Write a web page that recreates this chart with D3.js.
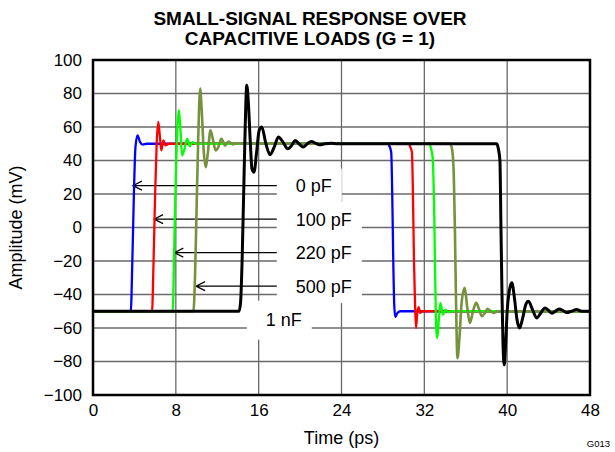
<!DOCTYPE html>
<html>
<head>
<meta charset="utf-8">
<script src="https://cdn.jsdelivr.net/npm/d3@7"></script>
<style>
  body { margin: 0; background: #fff; }
  svg { font-family: 'Liberation Sans', Arial, sans-serif; }
</style>
</head>
<body>
<svg width="615" height="452"></svg>
<script>
// Series: [time (ps), amplitude (mV)]
const series0pF = [
  [0, -50], [3.65, -50], [3.8, -20], [3.95, 20], [4.1, 48], [4.3, 55], [4.55, 51], [4.8, 49.5], [5.2, 50],
  [28.5, 50], [28.6, 49], [28.8, 45], [28.9, 20], [29.0, -20], [29.1, -47], [29.2, -53.5], [29.4, -51], [29.7, -50], [48, -50]
];
const series100pF = [
  [0, -50], [5.7, -50], [5.85, -20], [6.0, 20], [6.15, 50], [6.3, 63], [6.45, 55], [6.6, 46], [6.8, 52], [7.0, 49], [7.3, 50],
  [30.5, 50], [30.65, 48], [30.8, 45], [30.9, 20], [31.0, -20], [31.1, -45], [31.2, -60], [31.3, -52], [31.45, -47.5], [31.6, -51], [31.8, -50], [48, -50]
];
const series220pF = [
  [0, -50], [7.7, -50], [7.85, -10], [8.0, 30], [8.15, 60], [8.3, 70], [8.45, 58], [8.6, 43], [8.8, 46], [9.1, 53], [9.35, 48.5], [9.6, 51], [9.9, 50],
  [32.5, 50], [32.65, 47], [32.8, 42], [32.95, 10], [33.05, -30], [33.15, -60], [33.25, -66], [33.4, -55], [33.55, -45], [33.8, -52], [34.05, -49], [34.3, -50.5], [34.6, -50], [48, -50]
];
const series500pF = [
  [0, -50], [9.7, -50], [9.85, -30], [10.0, 10], [10.15, 50], [10.35, 83], [10.5, 70], [10.7, 45], [10.9, 36], [11.1, 45], [11.35, 58], [11.6, 52],
  [11.85, 46], [12.1, 48], [12.4, 53], [12.75, 49], [13.1, 51.3], [13.5, 49.6], [13.9, 50.3], [14.3, 50],
  [34.5, 50], [34.7, 46], [34.85, 30], [34.95, 0], [35.05, -40], [35.2, -78], [35.4, -65], [35.6, -45], [35.9, -36], [36.15, -48], [36.4, -57],
  [36.7, -50], [37.0, -45], [37.3, -49], [37.55, -53], [37.85, -51], [38.1, -48.5], [38.4, -50], [38.7, -51], [39.1, -50], [48, -50]
];
const series1nF = [
  [0, -50], [14.1, -50], [14.25, -45], [14.4, -20], [14.55, 20], [14.7, 60], [14.85, 85], [15.0, 75], [15.2, 50], [15.35, 35], [15.55, 33],
  [15.8, 45], [16.05, 58], [16.3, 60], [16.7, 50], [17.1, 43.5], [17.5, 48], [17.9, 54], [18.35, 51], [18.8, 47], [19.2, 49], [19.5, 52],
  [19.9, 50], [20.3, 48], [20.7, 50], [21.1, 51.4], [21.5, 50.3], [21.9, 49.4], [22.4, 50], [23.0, 50.3], [23.6, 50],
  [39.0, 50], [39.15, 47], [39.3, 40], [39.4, 0], [39.5, -40], [39.6, -70], [39.72, -82], [39.85, -70], [40.0, -50], [40.2, -38], [40.45, -33],
  [40.7, -42], [40.95, -55], [41.2, -60], [41.5, -54], [41.8, -46], [42.05, -44], [42.45, -49], [42.85, -54], [43.25, -51], [43.65, -48],
  [44.0, -49.5], [44.3, -51.2], [44.65, -50], [45.0, -48.6], [45.4, -49.6], [45.75, -50.8], [46.2, -50], [46.7, -49], [47.2, -50], [48, -50]
];

const seriesList = [series0pF, series100pF, series220pF, series500pF, series1nF];
const seriesColors = ['#0000ff', '#ff0000', '#00ff00', '#76923c', '#000000'];
const seriesWidths = [2.3, 2.3, 2.3, 2.6, 3];

// Tick values
const xTicks = [0, 8, 16, 24, 32, 40, 48];
const yTicks = [-100, -80, -60, -40, -20, 0, 20, 40, 60, 80, 100];

// Annotation labels (mV level of label, time of arrow tip)
const labelNames = ['0 pF', '100 pF', '220 pF', '500 pF'];
const labelMV = [25, 5, -15, -35];
const arrowTipT = [3.85, 5.9, 7.85, 9.95];
const lastLabel = '1 nF';
const lastLabelMV = -55;

function drawChart() {
  const svg = d3.select('svg');
  const margin = { top: 60, right: 25, bottom: 57, left: 93 };
  const width = 615 - margin.left - margin.right;
  const height = 452 - margin.top - margin.bottom;

  const g = svg.append('g')
    .attr('transform', 'translate(' + margin.left + ',' + margin.top + ')');

  const x = d3.scaleLinear().domain([0, 48]).range([0, width]);
  const y = d3.scaleLinear().domain([-100, 100]).range([height, 0]);

  // Title
  const title = svg.append('text')
    .attr('text-anchor', 'middle')
    .attr('font-weight', 'bold')
    .attr('font-size', '19px');
  title.append('tspan').attr('x', 310).attr('y', 25).text('SMALL-SIGNAL RESPONSE OVER');
  title.append('tspan').attr('x', 310).attr('y', 45).text('CAPACITIVE LOADS (G = 1)');

  // Grid
  g.append('g').selectAll('line')
    .data(yTicks)
    .enter().append('line')
    .attr('x1', 0).attr('x2', width)
    .attr('y1', (d) => y(d)).attr('y2', (d) => y(d))
    .attr('stroke', '#6a6a6a').attr('stroke-width', 1.3);
  g.append('g').selectAll('line')
    .data(xTicks)
    .enter().append('line')
    .attr('y1', 0).attr('y2', height)
    .attr('x1', (d) => x(d)).attr('x2', (d) => x(d))
    .attr('stroke', '#6a6a6a').attr('stroke-width', 1.3);

  // Label boxes covering grid, arrows
  const boxLeft = x(17.75);
  const labels = g.append('g');
  labelNames.forEach((name, i) => {
    const cy = y(labelMV[i]);
    const box = labels.append('rect').attr('fill', '#fff');
    const txt = labels.append('text')
      .attr('x', boxLeft + 19)
      .attr('y', cy)
      .attr('dy', '0.36em')
      .attr('font-size', '18px')
      .text(name);
    const bb = txt.node().getBBox();
    box.attr('x', boxLeft).attr('y', cy - 17)
      .attr('width', bb.x + bb.width + 10 - boxLeft)
      .attr('height', 34);
    const tip = x(arrowTipT[i]);
    labels.append('path')
      .attr('d', 'M' + boxLeft + ',' + cy + 'H' + tip + 'M' + (tip + 9) + ',' + (cy - 4.5) + 'L' + tip + ',' + cy + 'L' + (tip + 9) + ',' + (cy + 4.5))
      .attr('fill', 'none').attr('stroke', '#000').attr('stroke-width', 1.2);
  });
  {
    const cy = y(lastLabelMV);
    const left = x(14.85);
    const box = labels.append('rect').attr('fill', '#fff');
    const txt = labels.append('text')
      .attr('x', left + 19)
      .attr('y', cy)
      .attr('dy', '0.36em')
      .attr('font-size', '18px')
      .text(lastLabel);
    const bb = txt.node().getBBox();
    box.attr('x', left).attr('y', cy - 19)
      .attr('width', bb.x + bb.width + 10 - left)
      .attr('height', 39);
  }

  // Series lines
  const line = d3.line()
    .x((d) => x(d[0]))
    .y((d) => y(d[1]))
    .curve(d3.curveMonotoneX);

  g.append('g').selectAll('path')
    .data(seriesList)
    .enter().append('path')
    .attr('d', line)
    .attr('fill', 'none')
    .attr('stroke', (d, i) => seriesColors[i])
    .attr('stroke-width', (d, i) => seriesWidths[i])
    .attr('stroke-linejoin', 'round');

  // Plot border
  g.append('rect')
    .attr('width', width).attr('height', height)
    .attr('fill', 'none').attr('stroke', '#000').attr('stroke-width', 2.5);

  // Axes
  const yAxis = g.append('g')
    .call(d3.axisLeft(y).tickValues(yTicks).tickSize(0).tickPadding(11));
  const xAxis = g.append('g')
    .attr('transform', 'translate(0,' + height + ')')
    .call(d3.axisBottom(x).tickValues(xTicks).tickSize(0).tickPadding(9));
  [xAxis, yAxis].forEach((a) => {
    a.select('.domain').remove();
    a.selectAll('text').attr('font-size', '17px').attr('font-family', "'Liberation Sans', Arial, sans-serif").attr('fill', '#000');
  });

  // Axis titles
  svg.append('text')
    .attr('x', margin.left + width / 2)
    .attr('y', 444)
    .attr('text-anchor', 'middle')
    .attr('font-size', '18px')
    .text('Time (ps)');
  svg.append('text')
    .attr('transform', 'translate(22,' + (margin.top + height / 2) + ') rotate(-90)')
    .attr('text-anchor', 'middle')
    .attr('font-size', '18px')
    .text('Amplitude (mV)');
  svg.append('text')
    .attr('x', 610)
    .attr('y', 447)
    .attr('text-anchor', 'end')
    .attr('font-size', '9.5px')
    .text('G013');
}

drawChart();
</script>
</body>
</html>
